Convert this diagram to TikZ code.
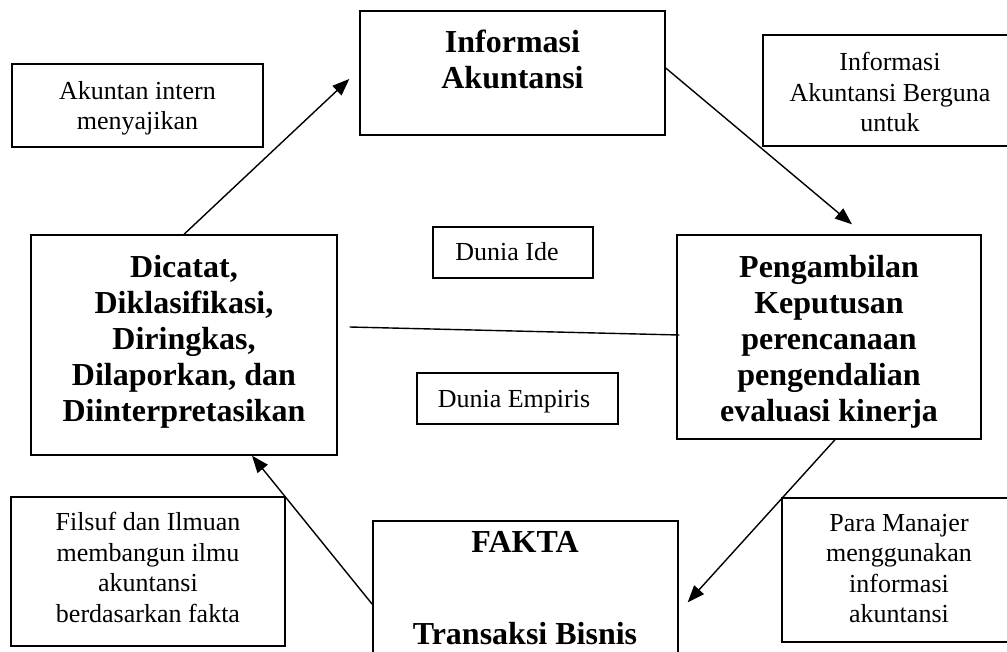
\documentclass[tikz,border=0pt]{standalone}
\usepackage{fontspec}
\setmainfont{Liberation Serif}
\usetikzlibrary{arrows.meta}
\tikzset{
  box/.style={draw,line width=1.4pt,inner sep=0pt},
  main/.style={font=\fontsize{32}{36}\selectfont\bfseries,align=center,inner sep=0pt},
  note/.style={font=\fontsize{26}{30.5}\selectfont,align=center,inner sep=0pt},
  flow/.style={line width=1.4pt,-{Triangle[length=17pt,width=13pt]}}
}
\begin{document}
\begin{tikzpicture}[x=1pt,y=-1pt]
\useasboundingbox (0,0) rectangle (1007,651); \clip (0,0) rectangle (1007,651);
\node[box,minimum width=305pt,minimum height=124pt] (info) at (512.5,73){}; \node[main,anchor=north] (infotxt) at (512.5,30){Informasi\\Akuntansi};
\node[box,minimum width=251pt,minimum height=83pt] (akun) at (137.5,105.5){}; \node[note,anchor=north] (akuntxt) at (137.5,81){Akuntan intern\\menyajikan};
\node[box,minimum width=254pt,minimum height=111pt] (guna) at (890,90.5){}; \node[note,anchor=north] (gunatxt) at (890,52){Informasi\\Akuntansi Berguna\\untuk};
\node[box,minimum width=306pt,minimum height=220pt] (catat) at (184,345){}; \node[main,anchor=north] (catattxt) at (184,255){Dicatat,\\Diklasifikasi,\\Diringkas,\\Dilaporkan, dan\\Diinterpretasikan};
\node[box,minimum width=160pt,minimum height=51pt] (ide) at (513,252.5){}; \node[note,anchor=base] (idetxt) at (507,260){Dunia Ide};
\node[box,minimum width=304pt,minimum height=204pt] (ambil) at (829,337){}; \node[main,anchor=north] (ambiltxt) at (829,255){Pengambilan\\Keputusan\\perencanaan\\pengendalian\\evaluasi kinerja};
\node[box,minimum width=201pt,minimum height=51pt] (empiris) at (517.5,398.5){}; \node[note,anchor=base] (empiristxt) at (514,407){Dunia Empiris};
\node[box,minimum width=274pt,minimum height=149pt] (filsuf) at (148,571.5){}; \node[note,anchor=north] (filsuftxt) at (148,512){Filsuf dan Ilmuan\\membangun ilmu\\akuntansi\\berdasarkan fakta};
\node[box,minimum width=305pt,minimum height=179pt] (fakta) at (525.5,610.5){}; \node[main,anchor=base] (faktatxt) at (525,644){FAKTA\\[56pt]Transaksi Bisnis};
\node[box,minimum width=234pt,minimum height=144pt] (manajer) at (899,570){}; \node[note,anchor=north] (manajertxt) at (899,514){Para Manajer\\menggunakan\\informasi\\akuntansi};
\draw[flow] (catat.north) -- ([xshift=-10pt,yshift=-6pt]info.west);
\draw[flow] ([yshift=5pt]info.east) -- ([xshift=23pt,yshift=10pt]ambil.north);
\draw[flow] ([xshift=6pt]ambil.south) -- ([xshift=9pt,yshift=-82pt]fakta.north east);
\draw[flow] ([yshift=-84pt]fakta.north west) -- ([xshift=68pt]catat.south);
\draw[line width=1.4pt] ([xshift=12pt,yshift=18pt]catat.east) -- ([xshift=3pt,yshift=2pt]ambil.west);
\end{tikzpicture}
\end{document}
